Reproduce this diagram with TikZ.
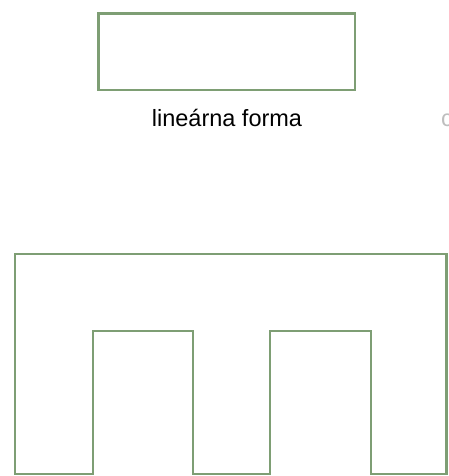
\documentclass[tikz,border=0pt]{standalone}
\usepackage{fontspec}
\setmainfont{Liberation Sans}
\definecolor{edge}{RGB}{126,158,116}
\definecolor{faint}{RGB}{190,190,190}
\begin{document}
\begin{tikzpicture}[x=1pt,y=1pt,
  outline/.style={draw=edge,line width=2.5pt,line join=miter},
  lbl/.style={font=\fontsize{23.5}{26}\selectfont,inner sep=0pt,anchor=base}]
\useasboundingbox (0,0) rectangle (448,476);
\clip (0,0) rectangle (448,476);
\draw[outline] (98.5,462.5) rectangle (355,386);
\node[lbl] (lin) at (227,349.3) {lineárna forma};
\node[lbl,anchor=base west,text=faint] (cyc) at (441,349.3) {c};
\draw[outline] (15,2) -- (15,222) -- (446.7,222) -- (446.7,2) -- (371,2) -- (371,145) -- (270,145) -- (270,2) -- (193,2) -- (193,145) -- (93,145) -- (93,2) -- cycle;
\end{tikzpicture}
\end{document}
